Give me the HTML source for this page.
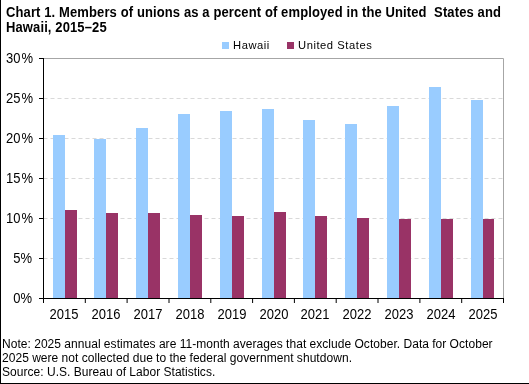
<!DOCTYPE html>
<html><head><meta charset="utf-8">
<style>
html,body{margin:0;padding:0;background:#fff;}
body{width:529px;height:384px;position:relative;overflow:hidden;font-family:"Liberation Sans",sans-serif;color:#000;}
.t{position:absolute;white-space:nowrap;line-height:1;-webkit-font-smoothing:antialiased;will-change:transform;}
.title{font-weight:bold;font-size:13px;left:5.8px;letter-spacing:0.115px;transform:scaleY(1.08);transform-origin:0 0;}
.yl{font-size:13px;text-align:right;width:40px;left:-7.1px;transform:scaleY(1.11);transform-origin:50% 80%;}
.xl{font-size:13px;width:40px;text-align:center;transform:scaleY(1.1);transform-origin:50% 80%;}
.note{font-size:12px;left:2.4px;letter-spacing:0.05px;word-spacing:-0.15px;}
.leg{font-size:11.2px;letter-spacing:0.55px;}
#bl{position:absolute;left:0;top:0;width:1px;height:384px;background:#000;}
#bb{position:absolute;left:0;top:383px;width:529px;height:1px;background:#000;}
</style></head><body>
<div id="bl"></div><div id="bb"></div>
<div class="t title" style="top:5.4px">Chart 1. Members of unions as a percent of employed in the United&nbsp; States and</div>
<div class="t title" style="top:19.9px">Hawaii, 2015–25</div>

<svg style="position:absolute;left:0;top:0" width="529" height="384" viewBox="0 0 529 384">
  <!-- legend -->
  <rect x="222" y="42" width="7" height="7" fill="#99CCFF"/>
  <rect x="287" y="42" width="7" height="7" fill="#993366"/>
  <!-- gridlines -->
  <g stroke="#d9d9d9" stroke-width="1" stroke-dasharray="4 3">
    <line x1="43.5" y1="98.5" x2="503" y2="98.5"/>
    <line x1="43.5" y1="138.5" x2="503" y2="138.5"/>
    <line x1="43.5" y1="178.5" x2="503" y2="178.5"/>
    <line x1="43.5" y1="218.5" x2="503" y2="218.5"/>
    <line x1="43.5" y1="258.5" x2="503" y2="258.5"/>
  </g>
  <!-- plot border top/right -->
  <g stroke="#a6a6a6" stroke-width="1" fill="none">
    <polyline points="44,58.5 503.5,58.5 503.5,298"/>
  </g>
  <!-- bars -->
  <g><rect x="53" y="135" width="12" height="163" fill="#99CCFF"/><rect x="65" y="210" width="12" height="88" fill="#993366"/><rect x="94" y="139" width="12" height="159" fill="#99CCFF"/><rect x="106" y="213" width="12" height="85" fill="#993366"/><rect x="136" y="128" width="12" height="170" fill="#99CCFF"/><rect x="148" y="213" width="12" height="85" fill="#993366"/><rect x="178" y="114" width="12" height="184" fill="#99CCFF"/><rect x="190" y="215" width="12" height="83" fill="#993366"/><rect x="220" y="111" width="12" height="187" fill="#99CCFF"/><rect x="232" y="216" width="12" height="82" fill="#993366"/><rect x="262" y="109" width="12" height="189" fill="#99CCFF"/><rect x="274" y="212" width="12" height="86" fill="#993366"/><rect x="303" y="120" width="12" height="178" fill="#99CCFF"/><rect x="315" y="216" width="12" height="82" fill="#993366"/><rect x="345" y="124" width="12" height="174" fill="#99CCFF"/><rect x="357" y="218" width="12" height="80" fill="#993366"/><rect x="387" y="106" width="12" height="192" fill="#99CCFF"/><rect x="399" y="219" width="12" height="79" fill="#993366"/><rect x="429" y="87" width="12" height="211" fill="#99CCFF"/><rect x="441" y="219" width="12" height="79" fill="#993366"/><rect x="471" y="100" width="12" height="198" fill="#99CCFF"/><rect x="483" y="219" width="11" height="79" fill="#993366"/></g>
  <!-- axes -->
  <g stroke="#000" stroke-width="1" fill="none">
    <line x1="43.5" y1="58" x2="43.5" y2="298.5"/>
    <line x1="43" y1="298.5" x2="504" y2="298.5"/>
    <line x1="39" y1="58.5" x2="43.5" y2="58.5"/>
    <line x1="39" y1="98.5" x2="43.5" y2="98.5"/>
    <line x1="39" y1="138.5" x2="43.5" y2="138.5"/>
    <line x1="39" y1="178.5" x2="43.5" y2="178.5"/>
    <line x1="39" y1="218.5" x2="43.5" y2="218.5"/>
    <line x1="39" y1="258.5" x2="43.5" y2="258.5"/>
    <line x1="39" y1="298.5" x2="43.5" y2="298.5"/>
  </g>
  <g stroke="#000" stroke-width="1"><line x1="43.5" y1="298" x2="43.5" y2="303"/><line x1="85.3" y1="298" x2="85.3" y2="303"/><line x1="127.1" y1="298" x2="127.1" y2="303"/><line x1="169.0" y1="298" x2="169.0" y2="303"/><line x1="210.8" y1="298" x2="210.8" y2="303"/><line x1="252.6" y1="298" x2="252.6" y2="303"/><line x1="294.4" y1="298" x2="294.4" y2="303"/><line x1="336.2" y1="298" x2="336.2" y2="303"/><line x1="378.0" y1="298" x2="378.0" y2="303"/><line x1="419.9" y1="298" x2="419.9" y2="303"/><line x1="461.7" y1="298" x2="461.7" y2="303"/><line x1="503.5" y1="298" x2="503.5" y2="303"/></g>
</svg>

<div class="t leg" style="left:233.1px;top:40.1px">Hawaii</div>
<div class="t leg" style="left:297.6px;top:40.1px">United States</div>

<div class="t yl" style="top:52.2px">30<span style="margin-left:1px">%</span></div>
<div class="t yl" style="top:92.2px">25<span style="margin-left:1px">%</span></div>
<div class="t yl" style="top:132.2px">20<span style="margin-left:1px">%</span></div>
<div class="t yl" style="top:172.2px">15<span style="margin-left:1px">%</span></div>
<div class="t yl" style="top:212.2px">10<span style="margin-left:1px">%</span></div>
<div class="t yl" style="top:252.2px;left:-8.1px">5%</div>
<div class="t yl" style="top:292.2px;left:-8.1px">0%</div>

<div class="t xl" style="left:44.4px;top:308px">2015</div><div class="t xl" style="left:86.2px;top:308px">2016</div><div class="t xl" style="left:128.0px;top:308px">2017</div><div class="t xl" style="left:169.9px;top:308px">2018</div><div class="t xl" style="left:211.7px;top:308px">2019</div><div class="t xl" style="left:253.5px;top:308px">2020</div><div class="t xl" style="left:295.3px;top:308px">2021</div><div class="t xl" style="left:337.1px;top:308px">2022</div><div class="t xl" style="left:379.0px;top:308px">2023</div><div class="t xl" style="left:420.8px;top:308px">2024</div><div class="t xl" style="left:462.6px;top:308px">2025</div>

<div class="t note" style="top:338px">Note: 2025 annual estimates are 11-month averages that exclude October. Data for October</div>
<div class="t note" style="top:352px">2025 were not collected due to the federal government shutdown.</div>
<div class="t note" style="top:366px">Source: U.S. Bureau of Labor Statistics.</div>
</body></html>
